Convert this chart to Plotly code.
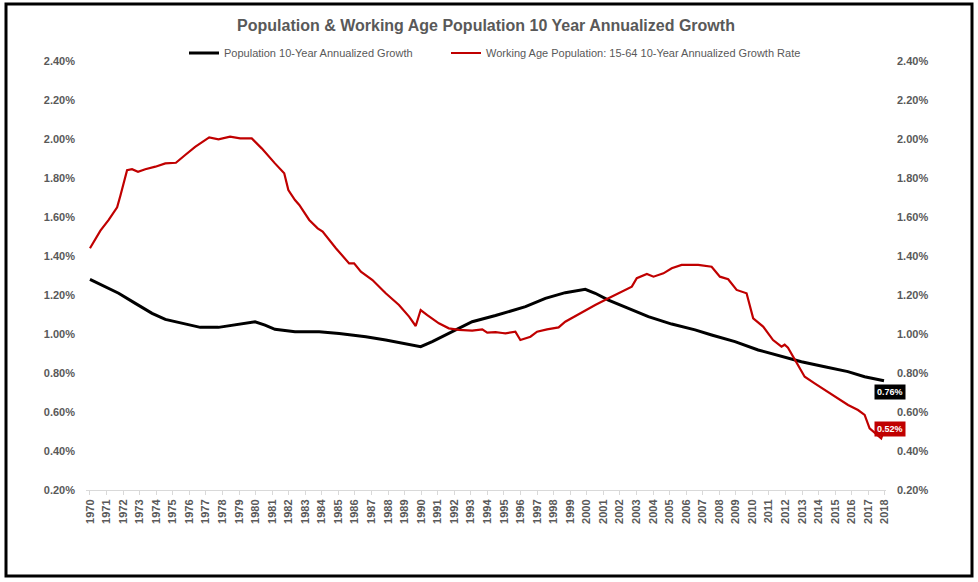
import plotly.graph_objects as go

# Working Age Population: 15-64 10-Year Annualized Growth Rate (%)
red_years = [1970.00, 1970.63, 1971.13, 1971.64, 1971.84, 1972.24, 1972.54, 1972.90, 1973.34, 1973.95,
             1974.55, 1975.19, 1975.75, 1976.35, 1977.20, 1977.76, 1978.46, 1979.07, 1979.77, 1980.37,
             1981.17, 1981.73, 1981.98, 1982.38, 1982.64, 1983.24, 1983.75, 1984.05, 1984.85, 1985.65,
             1985.95, 1986.36, 1987.06, 1987.86, 1988.66, 1989.27, 1989.67, 1989.97, 1990.37, 1991.07,
             1991.67, 1992.28, 1993.08, 1993.69, 1993.99, 1994.49, 1994.90, 1995.09, 1995.69, 1995.99,
             1996.60, 1997.00, 1997.60, 1998.30, 1998.70, 1999.31, 1999.91, 2000.51, 2001.31, 2001.92,
             2002.52, 2002.72, 2003.02, 2003.63, 2004.03, 2004.63, 2005.13, 2005.73, 2006.54, 2006.73,
             2007.54, 2008.04, 2008.54, 2009.05, 2009.65, 2010.05, 2010.65, 2011.25, 2011.76, 2011.95,
             2012.15, 2012.56, 2013.16, 2013.76, 2014.57, 2015.17, 2015.78, 2016.38, 2016.78, 2017.08,
             2017.78, 2018.00]
red_values = [1.44, 1.53, 1.585, 1.65, 1.71, 1.84, 1.845, 1.832, 1.845, 1.858,
              1.875, 1.878, 1.918, 1.96, 2.008, 1.998, 2.012, 2.003, 2.003, 1.952,
              1.875, 1.824, 1.738, 1.687, 1.662, 1.585, 1.542, 1.525, 1.44, 1.362,
              1.362, 1.32, 1.277, 1.209, 1.149, 1.089, 1.041, 1.123, 1.097, 1.055,
              1.029, 1.021, 1.017, 1.024, 1.007, 1.01, 1.005, 1.003, 1.012, 0.969,
              0.986, 1.012, 1.024, 1.034, 1.063, 1.092, 1.123, 1.149, 1.183, 1.209,
              1.234, 1.243, 1.286, 1.308, 1.294, 1.311, 1.337, 1.354, 1.354, 1.354,
              1.345, 1.294, 1.281, 1.226, 1.209, 1.08, 1.038, 0.969, 0.935, 0.945,
              0.93, 0.867, 0.781, 0.747, 0.704, 0.67, 0.636, 0.61, 0.585, 0.516,
              0.465, 0.52]

# Population 10-Year Annualized Growth (%)
black_years = [1970.00, 1970.93, 1971.73, 1972.74, 1973.75, 1974.55, 1975.75, 1976.66, 1977.76, 1978.77,
               1979.97, 1980.57, 1981.17, 1982.38, 1983.84, 1985.05, 1986.66, 1987.86, 1989.07, 1989.97,
               1990.67, 1991.88, 1993.08, 1994.49, 1995.09, 1996.30, 1997.50, 1998.70, 1999.91, 2000.51,
               2001.31, 2002.32, 2003.72, 2005.13, 2006.54, 2007.54, 2008.95, 2010.35, 2011.76, 2012.96,
               2014.37, 2015.77, 2016.78, 2017.95]
black_values = [1.28, 1.243, 1.209, 1.157, 1.106, 1.075, 1.051, 1.034, 1.034, 1.046,
                1.063, 1.046, 1.024, 1.012, 1.012, 1.003, 0.986, 0.969, 0.949, 0.935,
                0.961, 1.012, 1.063, 1.095, 1.11, 1.14, 1.183, 1.212, 1.229, 1.209,
                1.174, 1.14, 1.089, 1.051, 1.021, 0.995, 0.961, 0.918, 0.884, 0.858,
                0.832, 0.807, 0.781, 0.76]

year_ticks = list(range(1970, 2019))
y_ticks = [0.2, 0.4, 0.6, 0.8, 1.0, 1.2, 1.4, 1.6, 1.8, 2.0, 2.2, 2.4]
y_tick_labels = [f"{v:.2f}%" for v in y_ticks]

title_text = "Population & Working Age Population 10 Year Annualized Growth"
black_name = "Population 10-Year Annualized Growth"
red_name = "Working Age Population: 15-64 10-Year Annualized Growth Rate"

FONT = "Liberation Sans, Arial, sans-serif"
GRAY = "#595959"
RED = "#C00000"

W, H = 978, 582
L, R, T, B = 86, 92, 61, 92
pw, ph = W - L - R, H - T - B


def px(x):
    return (x - L) / pw


def py(y):
    return (H - B - y) / ph


fig = go.Figure()
fig.add_trace(go.Scatter(x=black_years, y=black_values, mode="lines", name=black_name,
                         line=dict(color="black", width=3), legend="legend"))
fig.add_trace(go.Scatter(x=red_years, y=red_values, mode="lines", name=red_name,
                         line=dict(color=RED, width=2.2), yaxis="y2", legend="legend2"))

fig.add_annotation(x=black_years[-1], y=black_values[-1], text=f"<b>{black_values[-1]:.2f}%</b>",
                   showarrow=False, xanchor="center", yanchor="middle", xshift=6, yshift=-11,
                   bgcolor="black", font=dict(color="white", size=9, family=FONT), borderpad=2)
fig.add_annotation(x=red_years[-1], y=red_values[-1], text=f"<b>{red_values[-1]:.2f}%</b>",
                   showarrow=False, xanchor="center", yanchor="middle", xshift=5, yshift=-1,
                   bgcolor=RED, font=dict(color="white", size=9, family=FONT), borderpad=2)

fig.add_shape(type="rect", xref="paper", yref="paper",
              x0=px(6), x1=px(972), y0=py(576), y1=py(4),
              line=dict(color="black", width=3), fillcolor="rgba(0,0,0,0)", layer="above")

axis_font = dict(family=FONT, size=11, color=GRAY)
legend_common = dict(orientation="h", xanchor="left", y=py(53), yanchor="middle",
                     font=dict(family=FONT, size=11, color=GRAY), itemwidth=30,
                     bgcolor="rgba(0,0,0,0)")
fig.update_layout(
    width=W, height=H,
    margin=dict(l=L, r=R, t=T, b=B),
    paper_bgcolor="white", plot_bgcolor="white",
    title=dict(text=f"<b>{title_text}</b>", x=0.5, xref="paper", xanchor="center",
               y=1 - 25 / H, yanchor="middle",
               font=dict(family=FONT, size=16, color=GRAY)),
    legend=dict(x=px(184), **legend_common),
    legend2=dict(x=px(446), **legend_common),
    xaxis=dict(range=[1969.76, 2018.07], tickmode="array", tickvals=year_ticks,
               ticktext=[f"<b>{y}</b>" for y in year_ticks], tickangle=-90,
               tickfont=dict(family=FONT, size=11, color=GRAY), showgrid=False,
               showline=True, linecolor="#D9D9D9", linewidth=1,
               ticks="outside", ticklen=4, tickcolor="#D9D9D9", zeroline=False),
    yaxis=dict(range=[0.2, 2.4], tickmode="array", tickvals=y_ticks,
               ticktext=[f"<b>{t}</b>" for t in y_tick_labels], tickfont=axis_font,
               showgrid=False, zeroline=False, showline=False, ticks="", ticklabelstandoff=10),
    yaxis2=dict(range=[0.2, 2.4], tickmode="array", tickvals=y_ticks,
                ticktext=[f"<b>{t}</b>" for t in y_tick_labels], tickfont=axis_font,
                overlaying="y", side="right", showgrid=False, zeroline=False,
                showline=False, ticks="", ticklabelstandoff=10),
    showlegend=True,
)

fig.write_html("out.html", config={"displayModeBar": False},
               post_script="document.body.style.margin='0';")
